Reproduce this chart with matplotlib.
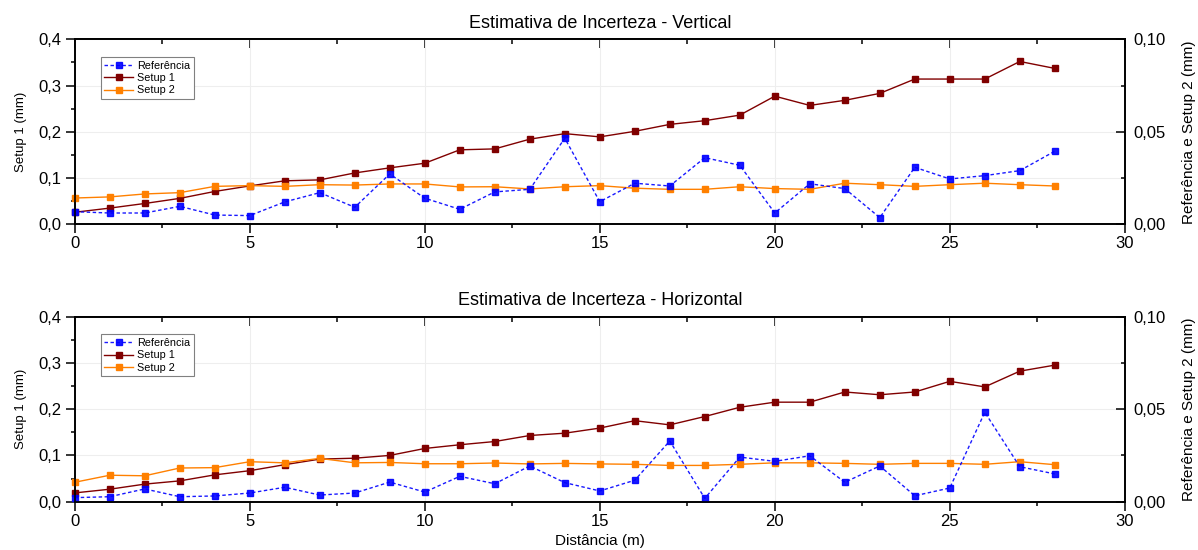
import numpy as np
import matplotlib
matplotlib.use('Agg')
import matplotlib.pyplot as plt
from matplotlib.ticker import MultipleLocator, FuncFormatter

plt.rcParams['font.family'] = ['Liberation Sans', 'DejaVu Sans']

# distance along the track (m)
distancia = list(range(29))

# Vertical: Setup 1 on the left axis, Referencia and Setup 2 on the right axis (mm)
vert_setup1 = [0.026, 0.035, 0.045, 0.056, 0.071, 0.083, 0.094, 0.096, 0.111, 0.122,
               0.132, 0.161, 0.163, 0.184, 0.196, 0.189, 0.201, 0.216, 0.224, 0.236,
               0.277, 0.257, 0.268, 0.283, 0.314, 0.314, 0.314, 0.352, 0.337]
vert_ref = [0.0068, 0.0061, 0.0061, 0.0097, 0.0050, 0.0047, 0.0121, 0.0171, 0.0092, 0.0272,
            0.0141, 0.0081, 0.0175, 0.0189, 0.0465, 0.0122, 0.0222, 0.0207, 0.0360, 0.0319,
            0.0061, 0.0219, 0.0193, 0.0036, 0.0308, 0.0245, 0.0263, 0.0290, 0.0395]
vert_setup2 = [0.0142, 0.0148, 0.0164, 0.0171, 0.0205, 0.0209, 0.0205, 0.0214, 0.0212, 0.0218,
               0.0218, 0.0202, 0.0203, 0.0191, 0.0203, 0.0209, 0.0195, 0.0189, 0.0189, 0.0203,
               0.0193, 0.0189, 0.0222, 0.0214, 0.0205, 0.0214, 0.0222, 0.0214, 0.0207]

# Horizontal
horiz_setup1 = [0.019, 0.027, 0.038, 0.045, 0.058, 0.067, 0.080, 0.092, 0.094, 0.100,
                0.115, 0.123, 0.130, 0.143, 0.148, 0.159, 0.175, 0.166, 0.184, 0.204,
                0.215, 0.215, 0.237, 0.231, 0.237, 0.260, 0.248, 0.282, 0.295]
horiz_ref = [0.0022, 0.0027, 0.0069, 0.0027, 0.0031, 0.0047, 0.0078, 0.0036, 0.0047, 0.0106,
             0.0052, 0.0137, 0.0097, 0.0193, 0.0103, 0.0058, 0.0116, 0.0328, 0.0018, 0.0241,
             0.0218, 0.0248, 0.0105, 0.0193, 0.0032, 0.0074, 0.0483, 0.0189, 0.0150]
horiz_setup2 = [0.0105, 0.0143, 0.0140, 0.0182, 0.0184, 0.0216, 0.0210, 0.0234, 0.0210, 0.0212,
                0.0205, 0.0205, 0.0209, 0.0204, 0.0207, 0.0204, 0.0202, 0.0196, 0.0196, 0.0202,
                0.0210, 0.0210, 0.0207, 0.0202, 0.0207, 0.0207, 0.0202, 0.0216, 0.0200]

titles = ["Estimativa de Incerteza - Vertical", "Estimativa de Incerteza - Horizontal"]

C_REF = '#0000FF'
C_S1 = '#800000'
C_S2 = '#FF8000'


def comma(dec):
    return FuncFormatter(lambda v, p: f"{v:.{dec}f}".replace('.', ','))


def draw_panel(fig, rect, title, setup1, ref, setup2, xlabel=None):
    ax = fig.add_axes(rect)
    ax2 = ax.twinx()

    # faint grid on the left-axis major ticks
    ax.grid(True, which='major', color='#eeeeee', lw=0.8)
    ax.set_axisbelow(True)

    l1, = ax.plot(distancia, setup1, '-', color=C_S1, lw=1.0, marker='s', ms=4.2,
                  mfc=C_S1, mec=C_S1, label='Setup 1')
    l2, = ax2.plot(distancia, setup2, '-', color=C_S2, lw=1.0, marker='s', ms=4.2,
                   mfc=C_S2, mec=C_S2, label='Setup 2')
    l0, = ax2.plot(distancia, ref, '--', color=C_REF, lw=1.0, dashes=(2.5, 1.8),
                   marker='s', ms=4.2, mfc=C_REF, mec=C_REF, alpha=0.9, label='Referência')
    for ln in (l0, l1, l2):
        ln.set_clip_on(False)

    ax.set_xlim(0, 30)
    ax.set_ylim(0, 0.4)
    ax2.set_ylim(0, 0.10)

    ax.xaxis.set_major_locator(MultipleLocator(5))
    ax.xaxis.set_minor_locator(MultipleLocator(2.5))
    ax.yaxis.set_major_locator(MultipleLocator(0.1))
    ax.yaxis.set_minor_locator(MultipleLocator(0.05))
    ax2.yaxis.set_major_locator(MultipleLocator(0.05))
    ax2.yaxis.set_minor_locator(MultipleLocator(0.025))
    ax.yaxis.set_major_formatter(comma(1))
    ax2.yaxis.set_major_formatter(comma(2))

    ax.tick_params(axis='x', which='both', direction='out', top=False, labelsize=12, pad=2)
    ax.tick_params(axis='y', which='both', direction='out', labelsize=12, pad=3)
    ax.tick_params(which='major', length=6.5, width=1.1)
    ax.tick_params(which='minor', length=3, width=1.1)
    ax2.tick_params(axis='y', which='both', direction='in', labelsize=12, pad=6)
    ax2.tick_params(which='major', length=6.5, width=1.1)
    ax2.tick_params(which='minor', length=3, width=1.1)

    # inward mirrored ticks on the top spine
    sec = ax.secondary_xaxis('top')
    sec.xaxis.set_major_locator(MultipleLocator(5))
    sec.xaxis.set_minor_locator(MultipleLocator(2.5))
    sec.tick_params(which='both', direction='in', labeltop=False, width=1.1)
    sec.tick_params(which='major', length=6.5)
    sec.tick_params(which='minor', length=3.5)

    for a in (ax, ax2, sec):
        for s in a.spines.values():
            s.set_linewidth(1.2)

    ax.set_title(title, fontsize=13, pad=8)
    ax.set_ylabel('Setup 1 (mm)', fontsize=9.5, labelpad=8)
    ax2.set_ylabel('Referência e Setup 2 (mm)', fontsize=11, labelpad=12)
    if xlabel:
        ax.set_xlabel(xlabel, fontsize=11, labelpad=4)

    leg = ax2.legend(handles=[l0, l1, l2], loc='upper left', bbox_to_anchor=(0.025, 0.903),
                     borderaxespad=0, fontsize=7.8, frameon=True, fancybox=False,
                     framealpha=1, edgecolor='#808080', handlelength=2.6,
                     handletextpad=0.4, labelspacing=0.22, borderpad=0.32)
    leg.get_frame().set_linewidth(0.8)
    return ax, ax2


fig = plt.figure(figsize=(11.98, 5.5), dpi=100)
draw_panel(fig, [0.0624, 0.5922, 0.8765, 0.3364], titles[0], vert_setup1, vert_ref, vert_setup2)
draw_panel(fig, [0.0624, 0.0878, 0.8765, 0.3367], titles[1], horiz_setup1, horiz_ref, horiz_setup2,
           xlabel='Distância (m)')

fig.savefig('out.png', dpi=100)
